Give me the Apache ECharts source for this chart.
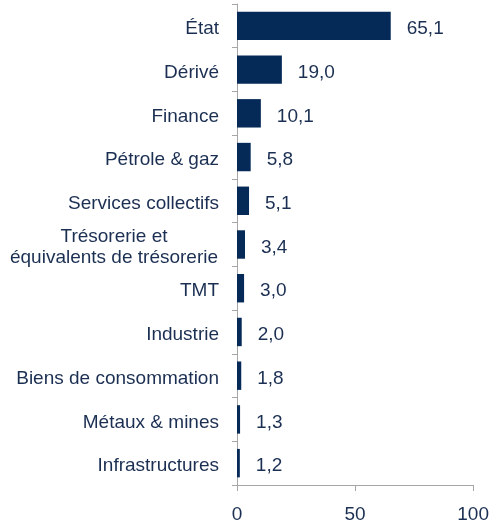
<!DOCTYPE html>
<html><head><meta charset="utf-8">
<script src="https://cdn.jsdelivr.net/npm/echarts@6/dist/echarts.min.js"></script>
<style>html,body{margin:0;padding:0;background:#fff}#c{width:492px;height:524px}</style>
</head><body><div id="c"></div>
<script>
const categories = ["État","Dérivé","Finance","Pétrole & gaz","Services collectifs","Trésorerie et\néquivalents de trésorerie","TMT","Industrie","Biens de consommation","Métaux & mines","Infrastructures"];
const values = [65.1,19.0,10.1,5.8,5.1,3.4,3.0,2.0,1.8,1.3,1.2];
const xTicks = [0,50,100];

const txt = '#1b2f52';
const chart = echarts.init(document.getElementById('c'));
chart.setOption({
  animation:false,
  textStyle:{fontFamily:'Liberation Sans, Arial, sans-serif'},
  grid:{left:237,right:18,top:4,bottom:32,containLabel:false},
  xAxis:{type:'value',min:xTicks[0],max:xTicks[xTicks.length-1],interval:50,
    axisLine:{show:true,lineStyle:{color:'#a6a6a6'}},
    axisTick:{show:true,length:6,lineStyle:{color:'#a6a6a6'}},
    splitLine:{show:false},
    axisLabel:{color:txt,fontSize:19,margin:20}},
  yAxis:{type:'category',inverse:true,data:categories,
    axisLine:{show:true,lineStyle:{color:'#a6a6a6'}},
    axisTick:{show:true,length:5,lineStyle:{color:'#a6a6a6'}},
    axisLabel:{color:txt,fontSize:19,margin:18,padding:[6,0,0,0],
      formatter:function(v){
        if(v.indexOf('\n')>=0){
          return v.split('\n').map(s=>'{c|'+s+'}').join('\n');
        }
        return v;
      },
      rich:{c:{width:210,align:'center',fontSize:19,color:txt,lineHeight:21}}
    }},
  series:[{type:'bar',data:values,barWidth:'65%',
    itemStyle:{color:'#062a58'},
    label:{show:true,position:'right',distance:16,offset:[0,3],color:txt,fontSize:19,
      formatter:p=>p.value.toFixed(1).replace('.',',')}}]
});
</script></body></html>
